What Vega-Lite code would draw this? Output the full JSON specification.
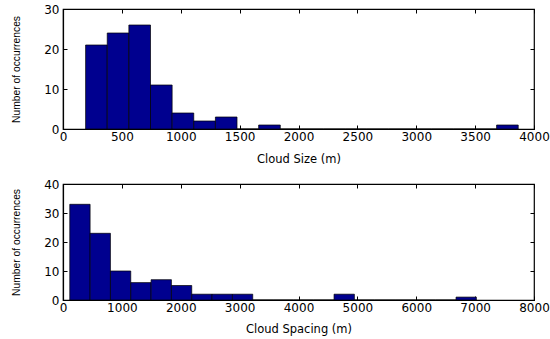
{
  "$schema": "https://vega.github.io/schema/vega-lite/v6.json",
  "padding": {"left": 11, "top": 2, "right": 0, "bottom": 0},
  "background": "white",
  "spacing": 11,
  "datasets": {
    "size": [
      {"lo": 192, "hi": 375.7, "n": 21},
      {"lo": 375.7, "hi": 559.4, "n": 24},
      {"lo": 559.4, "hi": 743.1, "n": 26},
      {"lo": 743.1, "hi": 926.8, "n": 11},
      {"lo": 926.8, "hi": 1110.5, "n": 4},
      {"lo": 1110.5, "hi": 1294.2, "n": 2},
      {"lo": 1294.2, "hi": 1477.9, "n": 3},
      {"lo": 1477.9, "hi": 1661.6, "n": 0},
      {"lo": 1661.6, "hi": 1845.3, "n": 1},
      {"lo": 1845.3, "hi": 2029, "n": 0},
      {"lo": 2029, "hi": 2212.7, "n": 0},
      {"lo": 2212.7, "hi": 2396.4, "n": 0},
      {"lo": 2396.4, "hi": 2580.1, "n": 0},
      {"lo": 2580.1, "hi": 2763.8, "n": 0},
      {"lo": 2763.8, "hi": 2947.5, "n": 0},
      {"lo": 2947.5, "hi": 3131.2, "n": 0},
      {"lo": 3131.2, "hi": 3314.9, "n": 0},
      {"lo": 3314.9, "hi": 3498.6, "n": 0},
      {"lo": 3498.6, "hi": 3682.3, "n": 0},
      {"lo": 3682.3, "hi": 3866, "n": 1}
    ],
    "spacing": [
      {"lo": 115, "hi": 460.3, "n": 33},
      {"lo": 460.3, "hi": 805.6, "n": 23},
      {"lo": 805.6, "hi": 1150.9, "n": 10},
      {"lo": 1150.9, "hi": 1496.2, "n": 6},
      {"lo": 1496.2, "hi": 1841.5, "n": 7},
      {"lo": 1841.5, "hi": 2186.8, "n": 5},
      {"lo": 2186.8, "hi": 2532.1, "n": 2},
      {"lo": 2532.1, "hi": 2877.4, "n": 2},
      {"lo": 2877.4, "hi": 3222.7, "n": 2},
      {"lo": 3222.7, "hi": 3568, "n": 0},
      {"lo": 3568, "hi": 3913.3, "n": 0},
      {"lo": 3913.3, "hi": 4258.6, "n": 0},
      {"lo": 4258.6, "hi": 4603.9, "n": 0},
      {"lo": 4603.9, "hi": 4949.2, "n": 2},
      {"lo": 4949.2, "hi": 5294.5, "n": 0},
      {"lo": 5294.5, "hi": 5639.8, "n": 0},
      {"lo": 5639.8, "hi": 5985.1, "n": 0},
      {"lo": 5985.1, "hi": 6330.4, "n": 0},
      {"lo": 6330.4, "hi": 6675.7, "n": 0},
      {"lo": 6675.7, "hi": 7021, "n": 1}
    ]
  },
  "config": {
    "view": {"stroke": "black", "strokeWidth": 1.2},
    "axis": {
      "grid": false,
      "tickSize": -4,
      "tickColor": "black",
      "tickWidth": 1,
      "domainColor": "black",
      "domainWidth": 1.2,
      "labelColor": "black",
      "titleColor": "black",
      "labelFont": "DejaVu Sans",
      "labelFontSize": 12,
      "titleFont": "DejaVu Sans",
      "titleFontSize": 11.5,
      "titleFontWeight": "normal",
      "labelOverlap": false,
      "labelFlush": false,
      "format": "d"
    }
  },
  "vconcat": [
    {
      "width": 471,
      "height": 120,
      "data": {"name": "size"},
      "resolve": {"scale": {"x": "independent", "y": "independent"}},
      "layer": [
        {
          "mark": {"type": "bar", "fill": "#00008F", "stroke": "black", "strokeWidth": 0.7},
          "encoding": {
            "x": {"field": "lo", "type": "quantitative", "scale": {"domain": [0, 4000], "nice": false},
                  "axis": {"values": [0,500,1000,1500,2000,2500,3000,3500,4000], "title": "Cloud Size (m)", "labelPadding": 6, "titlePadding": 11}},
            "x2": {"field": "hi"},
            "y": {"field": "n", "type": "quantitative", "scale": {"domain": [0, 30], "nice": false},
                  "axis": {"values": [0,10,20,30], "title": "Number of occurrences", "titleFont": "Liberation Sans", "titleFontSize": 10.3, "labelPadding": 8, "titlePadding": 22}},
            "y2": {"datum": 0}
          }
        },
        {
          "mark": {"type": "point", "opacity": 0},
          "encoding": {
            "x": {"field": "lo", "type": "quantitative", "scale": {"domain": [0, 4000], "nice": false},
                  "axis": {"orient": "top", "values": [0,500,1000,1500,2000,2500,3000,3500,4000], "labels": false, "domain": false, "title": null}},
            "y": {"field": "n", "type": "quantitative", "scale": {"domain": [0, 30], "nice": false},
                  "axis": {"orient": "right", "values": [0,10,20,30], "labels": false, "domain": false, "title": null}}
          }
        }
      ]
    },
    {
      "width": 471,
      "height": 116,
      "data": {"name": "spacing"},
      "resolve": {"scale": {"x": "independent", "y": "independent"}},
      "layer": [
        {
          "mark": {"type": "bar", "fill": "#00008F", "stroke": "black", "strokeWidth": 0.7},
          "encoding": {
            "x": {"field": "lo", "type": "quantitative", "scale": {"domain": [0, 8000], "nice": false},
                  "axis": {"values": [0,1000,2000,3000,4000,5000,6000,7000,8000], "title": "Cloud Spacing (m)", "labelPadding": 6, "titlePadding": 10}},
            "x2": {"field": "hi"},
            "y": {"field": "n", "type": "quantitative", "scale": {"domain": [0, 40], "nice": false},
                  "axis": {"values": [0,10,20,30,40], "title": "Number of occurrences", "titleFont": "Liberation Sans", "titleFontSize": 10.3, "labelPadding": 8, "titlePadding": 22}},
            "y2": {"datum": 0}
          }
        },
        {
          "mark": {"type": "point", "opacity": 0},
          "encoding": {
            "x": {"field": "lo", "type": "quantitative", "scale": {"domain": [0, 8000], "nice": false},
                  "axis": {"orient": "top", "values": [0,1000,2000,3000,4000,5000,6000,7000,8000], "labels": false, "domain": false, "title": null}},
            "y": {"field": "n", "type": "quantitative", "scale": {"domain": [0, 40], "nice": false},
                  "axis": {"orient": "right", "values": [0,10,20,30,40], "labels": false, "domain": false, "title": null}}
          }
        }
      ]
    }
  ]
}
